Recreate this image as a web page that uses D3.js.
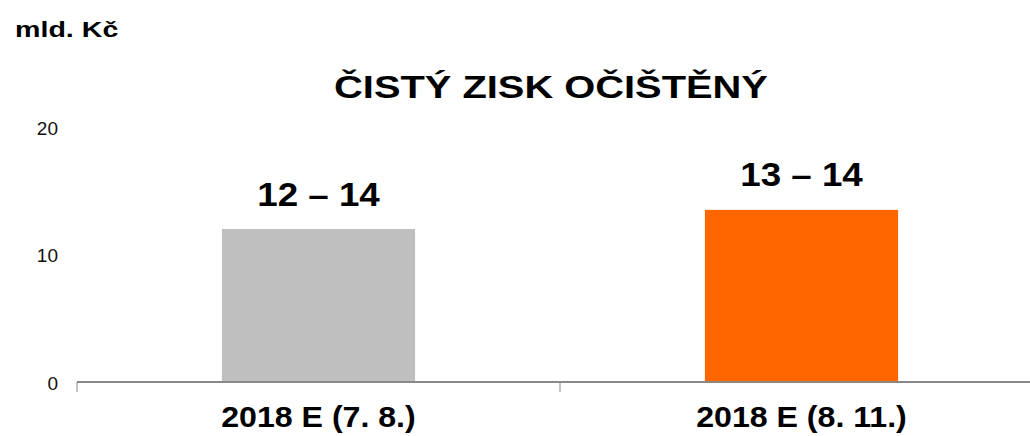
<!DOCTYPE html>
<html lang="cs">
<head>
<meta charset="UTF-8">
<style>
  body { margin: 0; background: #fff; }
  svg text { font-family: "Liberation Sans", Arial, sans-serif; }
</style>
<script src="https://d3js.org/d3.v7.min.js"></script>
</head>
<body>
<div id="graf"></div>
<script>
const kategorie = ["2018 E (7. 8.)", "2018 E (8. 11.)"];
const hodnoty = [12, 13.5];
const popisky = ["12 – 14", "13 – 14"];
const barvy = ["#bfbfbf", "#ff6600"];
const osaY = [0, 10, 20];

const sirka = 1030, vyska = 436;
const svg = d3.select("#graf").append("svg")
  .attr("width", sirka).attr("height", vyska);

const x = d3.scaleBand().domain(kategorie).range([77, 1043]).paddingInner(0.6).paddingOuter(0.3);
const y = d3.scaleLinear().domain([0, 20]).range([382, 127]);

// text je v originale trochu roztazeny do sirky
function roztahni(sel, k) {
  sel.each(function () {
    const w = this.getComputedTextLength();
    d3.select(this).attr("textLength", w * k).attr("lengthAdjust", "spacingAndGlyphs");
  });
}

// jednotka
svg.append("text").attr("x", 15).attr("y", 37)
  .attr("font-size", 22).attr("font-weight", "bold").text("mld. Kč")
  .call(roztahni, 1.3);

// titulek
svg.append("text").attr("x", 551).attr("y", 98).attr("text-anchor", "middle")
  .attr("font-size", 32).attr("font-weight", "bold").text("ČISTÝ ZISK OČIŠTĚNÝ")
  .call(roztahni, 1.245);

// osa y - jen popisky
svg.selectAll(".ytick").data(osaY).enter().append("text")
  .attr("x", 58).attr("y", d => y(d) + 7.5).attr("text-anchor", "end")
  .attr("font-size", 19).attr("fill", "#111").text(d => d);

// sloupce
svg.selectAll(".bar").data(kategorie).enter().append("rect")
  .attr("x", d => x(d)).attr("width", x.bandwidth())
  .attr("y", (d, i) => y(hodnoty[i]))
  .attr("height", (d, i) => y(0) - y(hodnoty[i]))
  .attr("fill", (d, i) => barvy[i]);

// popisky hodnot
svg.selectAll(".lbl").data(kategorie).enter().append("text")
  .attr("x", d => x(d) + x.bandwidth() / 2)
  .attr("y", (d, i) => y(hodnoty[i]) - 23.5)
  .attr("text-anchor", "middle").attr("font-size", 34).attr("font-weight", "bold")
  .text((d, i) => popisky[i])
  .call(roztahni, 1.08);

// osa x
const osa = svg.append("g").attr("transform", "translate(0," + y(0) + ")");
osa.append("line").attr("x1", 77).attr("x2", 1043).attr("stroke", "#888").attr("stroke-width", 2);
const hrany = [77].concat(kategorie.map(d => x(d) + x.bandwidth() + x.step() * x.paddingInner() / 2));
osa.selectAll(".tick").data(hrany).enter().append("line")
  .attr("x1", d => d).attr("x2", d => d).attr("y1", 0).attr("y2", 10)
  .attr("stroke", "#888").attr("stroke-width", 1);
osa.selectAll(".kat").data(kategorie).enter().append("text")
  .attr("x", d => x(d) + x.bandwidth() / 2).attr("y", 45)
  .attr("text-anchor", "middle").attr("font-size", 30).attr("font-weight", "bold")
  .text(d => d)
  .call(roztahni, 1.07);
</script>
</body>
</html>
